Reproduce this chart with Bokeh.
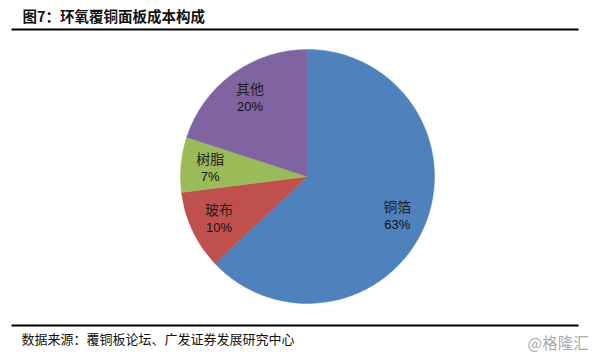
import numpy as np
from bokeh.plotting import figure
from bokeh.models import ColumnDataSource, Range1d
from bokeh.core.properties import value
from bokeh.embed import file_html
from bokeh.resources import INLINE

# ---- data ----
categories = ["铜箔", "玻布", "树脂", "其他"]
shares = [63, 10, 7, 20]
colors = ["#4F81BD", "#C0504D", "#9BBB59", "#8064A2"]
title_text = "图7：环氧覆铜面板成本构成"
source_text = "数据来源：覆铜板论坛、广发证券发展研究中心"
watermark_text = "@格隆汇"

W, H = 599, 356
p = figure(width=W, height=H, output_backend="svg", toolbar_location=None,
           x_axis_type=None, y_axis_type=None, min_border=0,
           x_range=Range1d(0, W), y_range=Range1d(0, H))
p.outline_line_color = None
p.grid.visible = False
p.background_fill_color = "white"
p.border_fill_color = "white"

cx, cy, R = 307, 180, 127
vals = np.array(shares, dtype=float)
frac = vals / vals.sum()
cum = np.concatenate([[0], np.cumsum(frac)])
start = np.pi / 2 - cum[:-1] * 2 * np.pi
end = np.pi / 2 - cum[1:] * 2 * np.pi
mid = (start + end) / 2
lr = 0.77 * R
lx = cx + lr * np.cos(mid)
ly = cy + lr * np.sin(mid)

src = ColumnDataSource(dict(
    start=start, end=end, color=colors, name=categories,
    pct=[f"{v:.0f}%" for v in vals], lx=lx, ly_name=ly + 9, ly_pct=ly - 9,
))
p.wedge(x=cx, y=cy, radius=R, start_angle="start", end_angle="end",
        direction="clock", fill_color="color", line_color="color",
        line_width=0.5, source=src)
p.text(x="lx", y="ly_name", text="name", source=src, text_align="center",
       text_baseline="middle", text_font=value("Noto Sans CJK SC"),
       text_font_size="14px", text_color="#222222")
p.text(x="lx", y="ly_pct", text="pct", source=src, text_align="center",
       text_baseline="middle", text_font=value("Liberation Sans"),
       text_font_size="13px", text_color="#111111")

# title and rules
p.text(x=[22], y=[341], text=[title_text], text_align="left",
       text_baseline="middle", text_font=value("Noto Sans CJK SC"),
       text_font_size="14.5px", text_font_style="bold", text_color="#111111")
p.segment(x0=[11], y0=[327], x1=[578], y1=[327], line_color="black", line_width=2)
p.segment(x0=[11], y0=[31], x1=[578], y1=[31], line_color="black", line_width=2)
p.text(x=[21], y=[18], text=[source_text], text_align="left",
       text_baseline="middle", text_font=value("Noto Sans CJK SC"),
       text_font_size="13px", text_color="#111111")
p.text(x=[527], y=[15], text=[watermark_text], text_align="left",
       text_baseline="middle", text_font=value("Noto Sans CJK SC"),
       text_font_size="15.5px", text_color="#aaaaaa")

open("out.html", "w").write(file_html(p, INLINE))
